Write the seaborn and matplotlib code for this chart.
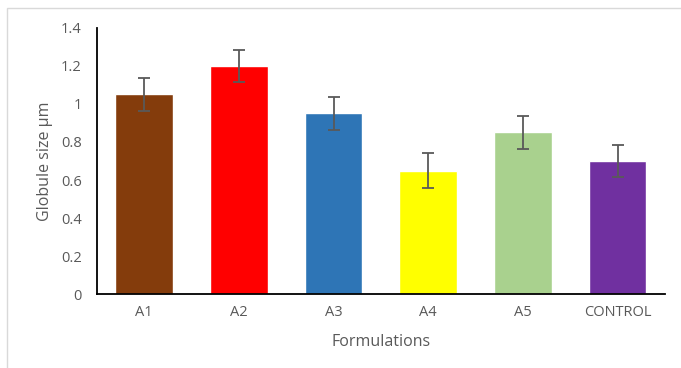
import matplotlib
matplotlib.use("Agg")
import matplotlib.pyplot as plt
import seaborn as sns
import pandas as pd
from matplotlib.patches import Rectangle

formulations = ["A1", "A2", "A3", "A4", "A5", "CONTROL"]
globule_size = [1.05, 1.20, 0.95, 0.65, 0.85, 0.70]
size_err = [0.085, 0.085, 0.085, 0.09, 0.085, 0.085]
bar_colors = ["#843C0C", "#FF0000", "#2E75B6", "#FFFF00", "#A9D18E", "#7030A0"]
y_ticks = [0, 0.2, 0.4, 0.6, 0.8, 1, 1.2, 1.4]
y_tick_labels = ["0", "0.2", "0.4", "0.6", "0.8", "1", "1.2", "1.4"]

df = pd.DataFrame({"Formulation": formulations, "Size": globule_size})

sns.set_style("white")
plt.rcParams["font.family"] = ["Open Sans", "DejaVu Sans"]
txt = "#595959"

fig = plt.figure(figsize=(6.81, 3.68), dpi=100)
ax = fig.add_axes([0.1424, 0.201, 0.834, 0.723])

sns.barplot(data=df, x="Formulation", y="Size", hue="Formulation",
            palette=bar_colors, width=0.61, legend=False, ax=ax,
            errorbar=None, saturation=1)
ax.errorbar(range(len(formulations)), globule_size, yerr=size_err,
            fmt="none", ecolor="#595959", elinewidth=1.3, capsize=4, capthick=1.3)

ax.set_ylim(0, 1.4)
ax.set_xlim(-0.5, len(formulations) - 0.5)
ax.set_yticks(y_ticks)
ax.set_yticklabels(y_tick_labels)
ax.tick_params(axis="both", length=0, labelsize=10.5, colors=txt, pad=8)
ax.tick_params(axis="y", pad=11)
ax.set_xlabel("Formulations", fontsize=11.5, color=txt, labelpad=10)
ax.set_ylabel("Globule size µm", fontsize=11.5, color=txt, labelpad=6)

for side in ["top", "right"]:
    ax.spines[side].set_visible(False)
ax.spines["left"].set_color("black")
ax.spines["bottom"].set_color("black")
ax.spines["left"].set_linewidth(1.3)
ax.spines["bottom"].set_linewidth(1.3)

fig.patches.append(Rectangle((7 / 681, -0.1), 1.1, 1 - 8 / 368 + 0.1,
                             transform=fig.transFigure, fill=False,
                             edgecolor="#D9D9D9", linewidth=1))

fig.savefig("out.png", dpi=100)
